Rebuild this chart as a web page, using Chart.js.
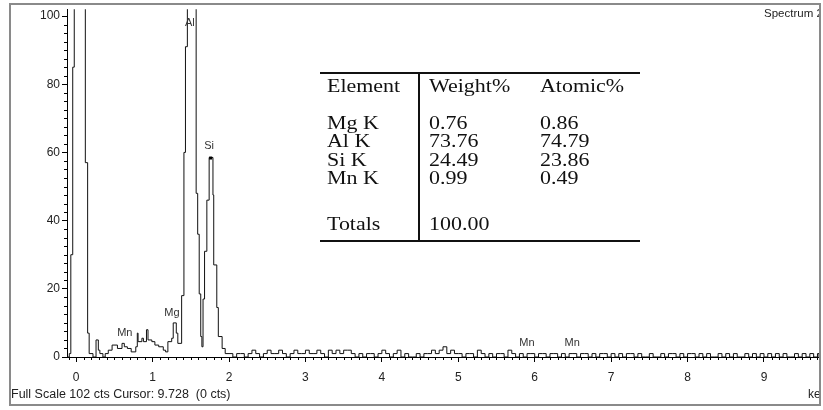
<!DOCTYPE html>
<html>
<head>
<meta charset="utf-8">
<script src="https://cdn.jsdelivr.net/npm/chart.js@4.4.0/dist/chart.umd.min.js"></script>
<style>
html, body { margin: 0; padding: 0; background: #fff; }
#wrap { width: 823px; height: 410px; }
</style>
</head>
<body>
<div id="wrap"><canvas id="spectrum" width="823" height="410"></canvas></div>
<script>
// low energy part of the spectrum, read channel edges by hand (keV / counts)
const lowKeV = [-0.12, -0.09, -0.07, -0.045, -0.025, 0.12, 0.15, 0.17, 0.22, 0.26, 0.29, 0.31, 0.35, 0.38,
  0.42, 0.47, 0.54, 0.60, 0.63, 0.67, 0.72, 0.78, 0.80, 0.81, 0.86, 0.88, 0.92, 0.94, 0.99, 1.03, 1.08,
  1.14, 1.17, 1.20, 1.25, 1.27, 1.31, 1.33, 1.38, 1.41, 1.43, 1.455, 1.57, 1.59, 1.61, 1.63, 1.645,
  1.66, 1.68, 1.71, 1.74, 1.79, 1.80, 1.84, 1.86, 1.91, 1.95];
const lowCts = [0, 1, 30, 85, 400, 57, 7, 1, 0, 5, 2, 1, 0, 1,
  2, 3.5, 2.5, 4, 3, 2.5, 1.5, 3, 7, 4.5, 5.5, 4.5, 8, 5, 4.5, 3.5, 3,
  2, 1.5, 4.5, 5.5, 10, 7, 4, 18, 60, 91, 250, 48, 36, 18.5, 6, 3,
  17, 31, 46, 58.5, 47.5, 27, 14.5, 6, 2.5, 1];

// background from 2 keV on, one value per 0.05 keV channel
const baseStartKeV = 2.0;
const baseStepKeV = 0.05;
const baseCts = [
  1,0,1,1,0,1,2,1,0,1,
  2,1,1,2,1,0,1,2,1,1,
  2,1,1,2,1,0,2,1,2,1,
  2,2,1,0,1,0,1,1,0,1,
  2,1,0,1,2,0,1,0,0,1,
  0,1,1,2,1,2,3,1,2,1,
  1,0,1,1,0,2,1,0,1,0,
  1,1,0,2,1,0,1,0,1,1,
  0,1,1,0,1,1,0,1,0,1,
  1,0,1,1,0,1,0,1,1,0,
  1,0,1,0,1,1,0,1,0,0,
  1,0,0,1,0,1,1,0,1,0,
  1,1,0,1,0,1,0,0,1,0,
  1,0,1,0,0,1,0,1,0,1,
  0,1,0,1,0,1,0,0,1,0,
  1,0,1,0,1
];
const endKeV = 9.72;

// peak markers
const peakNames = ['Al', 'Si', 'Mg', 'Mn', 'Mn', 'Mn'];
const peakKeV = [1.487, 1.74, 1.254, 0.637, 5.899, 6.49];
const peakLabelCts = [98, 62, 13, 7, 4, 4];

// quantification table
const tableHead = ['Element', 'Weight%', 'Atomic%'];
const elements = ['Mg K', 'Al K', 'Si K', 'Mn K'];
const weightPct = ['0.76', '73.76', '24.49', '0.99'];
const atomicPct = ['0.86', '74.79', '23.86', '0.49'];
const totalLabel = 'Totals';
const totalWeight = '100.00';

const points = [];
lowKeV.forEach((k, i) => points.push({ x: k, y: lowCts[i] }));
baseCts.forEach((c, i) => points.push({ x: +(baseStartKeV + i * baseStepKeV).toFixed(2), y: c }));
points.push({ x: endKeV, y: 0 });

const sans = '"Liberation Sans", Arial, sans-serif';
const serif = '"Liberation Serif", "Times New Roman", serif';

function stretchText(ctx, t, x, y, sx){
  ctx.save();
  ctx.translate(x, y);
  ctx.scale(sx, 1);
  ctx.fillText(t, 0, 0);
  ctx.restore();
}

const decor = {
  id: 'decor',
  afterDraw(chart){
    const ctx = chart.ctx, xs = chart.scales.x, ys = chart.scales.y;
    ctx.save();

    // minor ticks
    ctx.strokeStyle = '#000';
    ctx.lineWidth = 1;
    ctx.beginPath();
    for(let i = -1; i <= 97; i++){
      if(i % 10 === 0) continue;
      const px = Math.round(xs.getPixelForValue(i / 10)) + 0.5;
      ctx.moveTo(px, ys.bottom); ctx.lineTo(px, ys.bottom + 3);
    }
    for(let i = 1; i <= 40; i++){
      if(i % 8 === 0) continue;
      const py = Math.round(ys.getPixelForValue(i * 2.5)) + 0.5;
      ctx.moveTo(xs.left, py); ctx.lineTo(xs.left - 3, py);
    }
    ctx.stroke();

    // peak labels
    ctx.fillStyle = '#333';
    ctx.font = '11px ' + sans;
    ctx.textAlign = 'center';
    ctx.textBaseline = 'middle';
    peakNames.forEach((n, i) => {
      ctx.fillText(n, xs.getPixelForValue(peakKeV[i]), ys.getPixelForValue(peakLabelCts[i]));
    });
    ctx.fillStyle = '#000';
    ctx.fillRect(xs.getPixelForValue(1.76) - 1.5, ys.getPixelForValue(58.5) - 1, 3, 3);

    // frame
    ctx.strokeStyle = '#8a8a8a';
    ctx.lineWidth = 2;
    ctx.strokeRect(10, 4, 810, 401);

    // texts clipped by the frame
    ctx.save();
    ctx.beginPath(); ctx.rect(11, 5, 808, 399); ctx.clip();
    ctx.fillStyle = '#222';
    ctx.textAlign = 'left';
    ctx.font = '11.5px ' + sans;
    ctx.fillText('Spectrum 2', 764, 14);
    ctx.font = '12px ' + sans;
    ctx.fillText('keV', 808, 395);
    ctx.font = '12.5px ' + sans;
    ctx.fillText('Full Scale 102 cts Cursor: 9.728  (0 cts)', 11, 395);
    ctx.restore();

    // table
    ctx.strokeStyle = '#111';
    ctx.lineWidth = 2;
    ctx.beginPath();
    ctx.moveTo(320, 73); ctx.lineTo(640, 73);
    ctx.moveTo(320, 241); ctx.lineTo(640, 241);
    ctx.moveTo(419, 73); ctx.lineTo(419, 241);
    ctx.stroke();
    ctx.fillStyle = '#111';
    ctx.font = '18px ' + serif;
    ctx.textAlign = 'left';
    ctx.textBaseline = 'alphabetic';
    const cols = [327, 429, 540];
    const sx = 1.22;
    tableHead.forEach((h, i) => stretchText(ctx, h, cols[i], 91.5, sx));
    const rowY = [128.5, 147, 165.5, 184];
    elements.forEach((e, i) => {
      stretchText(ctx, e, cols[0], rowY[i], sx);
      stretchText(ctx, weightPct[i], cols[1], rowY[i], sx);
      stretchText(ctx, atomicPct[i], cols[2], rowY[i], sx);
    });
    stretchText(ctx, totalLabel, cols[0], 230, sx);
    stretchText(ctx, totalWeight, cols[1], 230, sx);

    ctx.restore();
  }
};

new Chart(document.getElementById('spectrum'), {
  type: 'line',
  data: {
    datasets: [{
      data: points,
      stepped: true,
      borderColor: '#111',
      borderWidth: 1,
      pointRadius: 0,
      fill: false,
      tension: 0
    }]
  },
  options: {
    responsive: false,
    animation: false,
    layout: { padding: { left: 0, right: 4, top: 4, bottom: 0 } },
    plugins: { legend: { display: false }, tooltip: { enabled: false } },
    scales: {
      x: {
        type: 'linear', min: -0.12, max: 9.72,
        afterFit: s => { s.height = 53; },
        border: { display: true, color: '#000', width: 1 },
        grid: { drawOnChartArea: false, drawTicks: true, tickLength: 5, color: '#000' },
        ticks: { stepSize: 1, includeBounds: false, autoSkip: false, maxRotation: 0, padding: 8,
          color: '#222', font: { family: sans, size: 12 } }
      },
      y: {
        min: 0, max: 102,
        afterFit: s => { s.width = 67; },
        border: { display: true, color: '#000', width: 1 },
        grid: { drawOnChartArea: false, drawTicks: true, tickLength: 5, color: '#000' },
        ticks: { stepSize: 20, includeBounds: false, padding: 2,
          color: '#222', font: { family: sans, size: 12 } }
      }
    }
  },
  plugins: [decor]
});
</script>
</body>
</html>
